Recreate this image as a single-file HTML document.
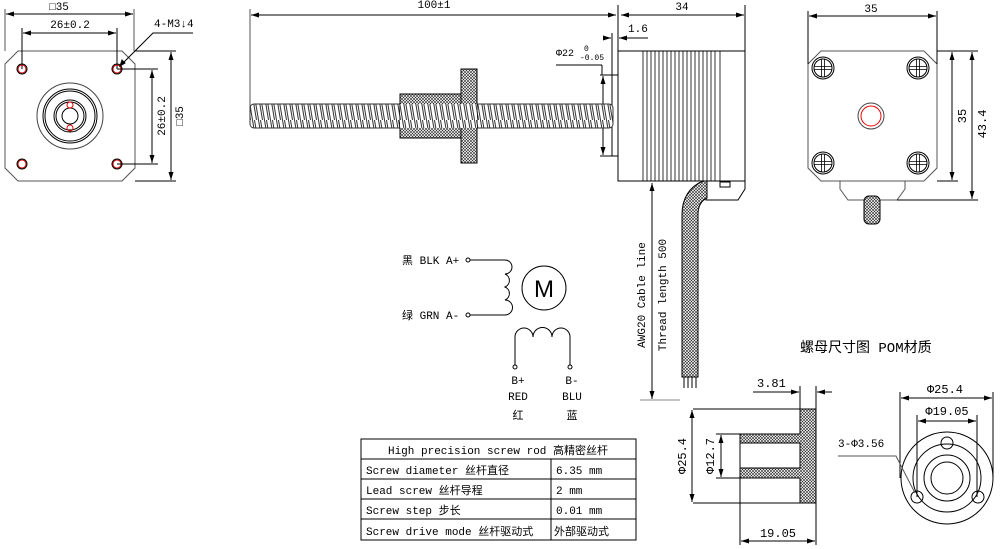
<!DOCTYPE html>
<html><head><meta charset="utf-8"><style>
html,body{margin:0;padding:0;background:#fff;width:1003px;height:549px;overflow:hidden}
svg{display:block}
text{font-family:"Liberation Mono","Noto Sans CJK SC",monospace;fill:#000}
</style></head><body>
<svg width="1003" height="549" viewBox="0 0 1003 549" xmlns="http://www.w3.org/2000/svg">
<defs>
<pattern id="h" width="3" height="3" patternUnits="userSpaceOnUse">
<rect width="3" height="3" fill="#fff"/><path d="M0 0L3 3M3 0L0 3" stroke="#222" stroke-width="0.6"/>
</pattern>
<pattern id="thr" width="6" height="24" patternUnits="userSpaceOnUse">
<rect width="6" height="24" fill="#fff"/><path d="M0.5 0L4.5 24M2.5 0L6.5 24M-3.5 0L0.5 24" stroke="#333" stroke-width="1"/>
</pattern>
<marker id="a" markerWidth="8" markerHeight="6" refX="8" refY="3" orient="auto-start-reverse" markerUnits="userSpaceOnUse"><path d="M0 0.5L8 3L0 5.5z" fill="#000"/></marker>
</defs>
<g fill="none" stroke="#000" stroke-width="1">
<path d="M18 51H122L135 64V168L122 181H18L5 168V64Z" stroke="#555"/>
<line x1="5" y1="9" x2="5" y2="51" stroke="#555"/><line x1="134" y1="9" x2="134" y2="51" stroke="#555"/>
<line x1="6" y1="14" x2="133" y2="14" marker-start="url(#a)" marker-end="url(#a)"/>
<line x1="22" y1="28" x2="22" y2="69"/><line x1="117" y1="28" x2="117" y2="69"/>
<line x1="23" y1="33" x2="116" y2="33" marker-start="url(#a)" marker-end="url(#a)"/>
<circle cx="22" cy="69" r="4" stroke="#d00"/><circle cx="117" cy="69" r="4" stroke="#d00"/>
<circle cx="22" cy="164" r="4" stroke="#d00"/><circle cx="117" cy="164" r="4" stroke="#d00"/>
<circle cx="22" cy="69" r="5"/><circle cx="117" cy="69" r="5"/><circle cx="22" cy="164" r="5"/><circle cx="117" cy="164" r="5"/>
<circle cx="70" cy="116" r="33" stroke="#444"/><circle cx="70" cy="116" r="27"/><circle cx="70" cy="116" r="25"/>
<circle cx="70" cy="116" r="16"/><circle cx="70" cy="116" r="14"/><circle cx="70" cy="116" r="8"/>
<circle cx="70" cy="105" r="3" stroke="#d00"/><circle cx="70" cy="128" r="3" stroke="#d00"/>
<line x1="117" y1="69" x2="158" y2="69"/><line x1="117" y1="164" x2="158" y2="164"/>
<line x1="152" y1="70" x2="152" y2="163" marker-start="url(#a)" marker-end="url(#a)"/>
<line x1="135" y1="51" x2="176" y2="51"/><line x1="135" y1="181" x2="176" y2="181"/>
<line x1="171" y1="52" x2="171" y2="180" marker-start="url(#a)" marker-end="url(#a)"/>
<polyline points="193,33 153,33 120,66" /><path d="M120 66l2-6 3 3z" fill="#000"/>
<line x1="250" y1="9" x2="250" y2="122" stroke="#555"/>
<line x1="251" y1="15" x2="616" y2="15" marker-start="url(#a)" marker-end="url(#a)"/>
<line x1="618" y1="5" x2="618" y2="181"/>
<line x1="745" y1="5" x2="745" y2="51"/>
<line x1="621" y1="15" x2="744" y2="15" marker-start="url(#a)" marker-end="url(#a)"/>
<line x1="612" y1="33" x2="612" y2="156"/>
<line x1="603" y1="38" x2="611" y2="38" marker-end="url(#a)"/><line x1="648" y1="38" x2="619" y2="38" marker-end="url(#a)"/>
<line x1="556" y1="65" x2="602" y2="65"/>
<line x1="602" y1="65" x2="602" y2="75"/>
<line x1="600" y1="75" x2="618" y2="75"/><line x1="600" y1="156" x2="618" y2="156"/>
<line x1="603" y1="76" x2="603" y2="155" marker-start="url(#a)" marker-end="url(#a)"/>
<rect x="250" y="104" width="363" height="24" fill="url(#thr)" stroke="#333" rx="4"/>
<rect x="400" y="94" width="77" height="44" fill="url(#h)"/>
<rect x="461" y="69" width="16" height="94" fill="url(#h)"/>
<rect x="400" y="104" width="77" height="24" fill="url(#thr)" stroke="none"/>
<rect x="618" y="51" width="127" height="130"/>
<g stroke-width="0.8">
<path d="M643 51V181M647 51V181M651 51V181M655 51V181M659 51V181M663 51V181M667 51V181M671 51V181M675 51V181M679 51V181M683 51V181M687 51V181M691 51V181M695 51V181M699 51V181M703 51V181M707 51V181M711 51V181M715 51V181M720 51V181"/>
</g>
<path d="M706 181H745V189L738 200H706Z"/><rect x="720" y="182" width="10" height="5"/>
<path d="M682 377V215Q682 190 703 181L707 181V198Q698 202 698 215V377Z" fill="url(#h)"/>
<path d="M684 377V388M688 377V388M692 377V388M696 377V388"/>
<line x1="652" y1="183" x2="652" y2="399" marker-start="url(#a)" marker-end="url(#a)"/>
<line x1="640" y1="400" x2="680" y2="400" stroke="#888"/>
<path d="M821 51H924L937 64V168L924 181H821L808 168V64Z" stroke="#555"/>
<line x1="808" y1="11" x2="808" y2="64"/><line x1="937" y1="11" x2="937" y2="64"/>
<line x1="809" y1="16" x2="936" y2="16" marker-start="url(#a)" marker-end="url(#a)"/>
<g id="sc"><circle cx="823" cy="68" r="11"/><circle cx="823" cy="68" r="9"/><path d="M814 66.5h18M814 69.5h18M821.5 59v18M824.5 59v18" stroke-width="0.8"/></g>
<use href="#sc" x="95"/><use href="#sc" y="95"/><use href="#sc" x="95" y="95"/>
<circle cx="871" cy="116" r="13" stroke="#444"/><circle cx="871" cy="116" r="10" stroke="#e00"/>
<path d="M840 181V189L848 200H897L905 189V181" stroke="#555"/>
<rect x="864" y="196" width="16" height="28" rx="5" fill="url(#h)"/>
<line x1="937" y1="51" x2="978" y2="51"/><line x1="937" y1="181" x2="958" y2="181"/><line x1="897" y1="200" x2="978" y2="200"/>
<line x1="952" y1="52" x2="952" y2="180" marker-start="url(#a)" marker-end="url(#a)"/>
<line x1="972" y1="52" x2="972" y2="199" marker-start="url(#a)" marker-end="url(#a)"/>
<circle cx="468" cy="260" r="2"/><circle cx="468" cy="315" r="2"/>
<path d="M470 260H505A7 7 0 0 1 505 274A7 7 0 0 1 505 287A7 7 0 0 1 505 300A7 7 0 0 1 505 315H470"/>
<circle cx="544" cy="288" r="22"/>
<circle cx="515" cy="367" r="2"/><circle cx="570" cy="367" r="2"/>
<path d="M515 365V337A9 9 0 0 1 533 337A9 9 0 0 1 552 337A9 9 0 0 1 570 337V365"/>
<rect x="361" y="439" width="275" height="101"/>
<path d="M361 459H636M361 479H636M361 499H636M361 519H636M551 459V540"/>
<path d="M800 409H816V503H800V478H740V468H800V443H740V434H800Z" fill="url(#h)"/>
<path d="M693 409H800M693 503H800M740 434V545M716 434H740M716 478H740M816 386V545M800 386V409"/>
<line x1="692" y1="410" x2="692" y2="502" marker-start="url(#a)" marker-end="url(#a)"/>
<line x1="721" y1="435" x2="721" y2="477" marker-start="url(#a)" marker-end="url(#a)"/>
<line x1="741" y1="541" x2="815" y2="541" marker-start="url(#a)" marker-end="url(#a)"/>
<line x1="753" y1="392" x2="799" y2="392" marker-end="url(#a)"/><line x1="832" y1="392" x2="817" y2="392" marker-end="url(#a)"/>
<circle cx="947" cy="478" r="46"/><circle cx="947" cy="478" r="34"/><circle cx="947" cy="478" r="23"/><circle cx="947" cy="478" r="16"/>
<circle cx="947" cy="443" r="6"/><circle cx="917" cy="497" r="6"/><circle cx="978" cy="497" r="6"/>
<path d="M900 392V478M993 392V478M917 415V497M977 415V497"/>
<line x1="901" y1="398" x2="992" y2="398" marker-start="url(#a)" marker-end="url(#a)"/>
<line x1="918" y1="421" x2="976" y2="421" marker-start="url(#a)" marker-end="url(#a)"/>
<polyline points="838,456 896,456 915,493" stroke="#555"/>
</g>
<g font-size="11">
<text x="59" y="10" text-anchor="middle">□35</text>
<text x="70" y="28" text-anchor="middle">26±0.2</text>
<text x="154" y="27">4-M3↓4</text>
<text transform="translate(165,116) rotate(-90)" text-anchor="middle">26±0.2</text>
<text transform="translate(183,116) rotate(-90)" text-anchor="middle">□35</text>
<text x="434" y="8" text-anchor="middle">100±1</text>
<text x="682" y="10" text-anchor="middle">34</text>
<text x="628" y="32">1.6</text>
<text x="556" y="56" font-size="10">Φ22</text>
<text x="584" y="51" font-size="8">0</text>
<text x="580" y="60" font-size="8">-0.05</text>
<text x="871" y="12" text-anchor="middle">35</text>
<text transform="translate(966,116) rotate(-90)" text-anchor="middle" font-size="12">35</text>
<text transform="translate(986,124) rotate(-90)" text-anchor="middle" font-size="12">43.4</text>
<text transform="translate(645,295) rotate(-90)" text-anchor="middle">AWG20 Cable line</text>
<text transform="translate(666,295) rotate(-90)" text-anchor="middle">Thread length 500</text>
<text x="402" y="264">黑 BLK A+</text>
<text x="402" y="319">绿 GRN A-</text>
<text x="544" y="297" text-anchor="middle" font-size="24" style="font-family:'Liberation Sans',sans-serif" font-weight="300">M</text>
<text x="518" y="384" text-anchor="middle">B+</text><text x="518" y="400" text-anchor="middle">RED</text><text x="518" y="419" text-anchor="middle">红</text>
<text x="572" y="384" text-anchor="middle">B-</text><text x="572" y="400" text-anchor="middle">BLU</text><text x="572" y="419" text-anchor="middle">蓝</text>
<text x="800" y="352" font-size="14">螺母尺寸图 POM材质</text>
<text x="498" y="454" text-anchor="middle">High precision screw rod 高精密丝杆</text>
<text x="366" y="474">Screw diameter 丝杆直径</text><text x="556" y="474">6.35 mm</text>
<text x="366" y="494">Lead screw 丝杆导程</text><text x="556" y="494">2 mm</text>
<text x="366" y="514">Screw step 步长</text><text x="556" y="514">0.01 mm</text>
<text x="366" y="535">Screw drive mode 丝杆驱动式</text><text x="554" y="535">外部驱动式</text>
<text x="757" y="387" font-size="12">3.81</text>
<text transform="translate(686,456) rotate(-90)" text-anchor="middle" font-size="12">Φ25.4</text>
<text transform="translate(714,456) rotate(-90)" text-anchor="middle" font-size="12">Φ12.7</text>
<text x="778" y="537" text-anchor="middle" font-size="12">19.05</text>
<text x="945" y="393" text-anchor="middle" font-size="12">Φ25.4</text>
<text x="947" y="415" text-anchor="middle" font-size="12">Φ19.05</text>
<text x="838" y="447">3-Φ3.56</text>
</g>
</svg>
</body></html>
